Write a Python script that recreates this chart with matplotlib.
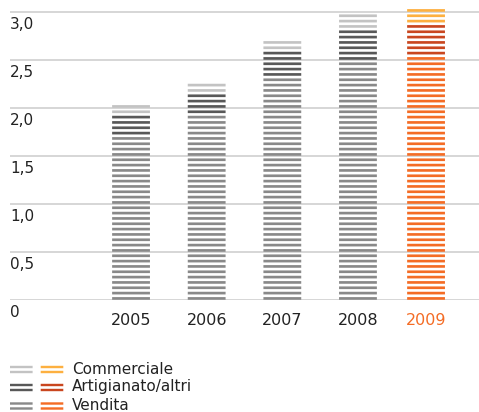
import matplotlib
matplotlib.use("Agg")
import matplotlib.pyplot as plt
import matplotlib.patches as patches
import numpy as np

# dati (mld)
anni = ["2005", "2006", "2007", "2008", "2009"]
vendita = [1.72, 1.94, 2.33, 2.50, 2.55]
artigianato = [0.22, 0.22, 0.28, 0.33, 0.33]
commerciale = [0.11, 0.11, 0.11, 0.17, 0.17]
serie = ["Commerciale", "Artigianato/altri", "Vendita"]
yticks = [0, 0.5, 1.0, 1.5, 2.0, 2.5, 3.0]

# colori: grigi per gli anni passati, arancio per l'anno corrente
grigi = {"vend": "#898989", "art": "#585858", "comm": "#c3c3c3"}
aranci = {"vend": "#f46c25", "art": "#c9461f", "comm": "#fdb040"}

passo = 1 / 18.0          # distanza tra le righe
spessore = passo * 0.5

W, H = 479, 412
fig = plt.figure(figsize=(W / 100, H / 100), dpi=100)
plt.rcParams["font.family"] = "DejaVu Sans"

ax_bottom = 300.3
ax = fig.add_axes([10 / W, 1 - ax_bottom / H, 1 - 10 / W, ax_bottom / H])
ax.set_ylim(0, ax_bottom / 96.0)

xpos = [0, 1, 2, 3, 3.9]
ax.set_xlim(-1.6, 4.6)
larg = 0.5

for y in yticks:
    ax.axhline(y, color="#cccccc", lw=1.1, zorder=1)
    lab = "0" if y == 0 else f"{y:.1f}".replace(".", ",")
    ax.annotate(lab, xy=(0, y), xycoords=("axes fraction", "data"),
                xytext=(0, -3.5), textcoords="offset points",
                ha="left", va="top", fontsize=11, color="#222222")

for i, x in enumerate(xpos):
    col = aranci if anni[i] == "2009" else grigi
    n_v = int(round(vendita[i] / passo))
    n_a = int(round(artigianato[i] / passo))
    n_c = int(round(commerciale[i] / passo))
    k = 0
    for n, key in [(n_v, "vend"), (n_a, "art"), (n_c, "comm")]:
        basi = (np.arange(k, k + n) + 0.1) * passo
        barre = ax.bar([x] * n, [spessore] * n, bottom=basi, width=larg,
                       color=col[key], linewidth=0, zorder=2)
        for b in barre:
            b.set_snap(False)
        k += n

ax.set_xticks(xpos)
ax.set_xticklabels(anni, fontsize=11.5, color="#222222")
ax.get_xticklabels()[-1].set_color(aranci["vend"])
ax.tick_params(axis="x", length=0, pad=9)
ax.set_yticks([])
for s in ax.spines.values():
    s.set_visible(False)

# legenda disegnata a mano
leg = fig.add_axes([0, 0, 1, 1], zorder=3)
leg.set_xlim(0, W)
leg.set_ylim(H, 0)
leg.axis("off")
righe = [369.5, 387.5, 406.0]
chiavi = ["comm", "art", "vend"]
for yc, key, nome in zip(righe, chiavi, serie):
    for x0, col in [(10, grigi), (40.7, aranci)]:
        for dy in (-2.5, 2.5):
            leg.add_patch(patches.Rectangle((x0, yc + dy - 1.2), 22.6, 2.4,
                                            color=col[key], lw=0, snap=False))
    leg.text(72, yc - 0.5, nome, fontsize=11, color="#222222",
             ha="left", va="center")

fig.savefig("out.png", dpi=100)
